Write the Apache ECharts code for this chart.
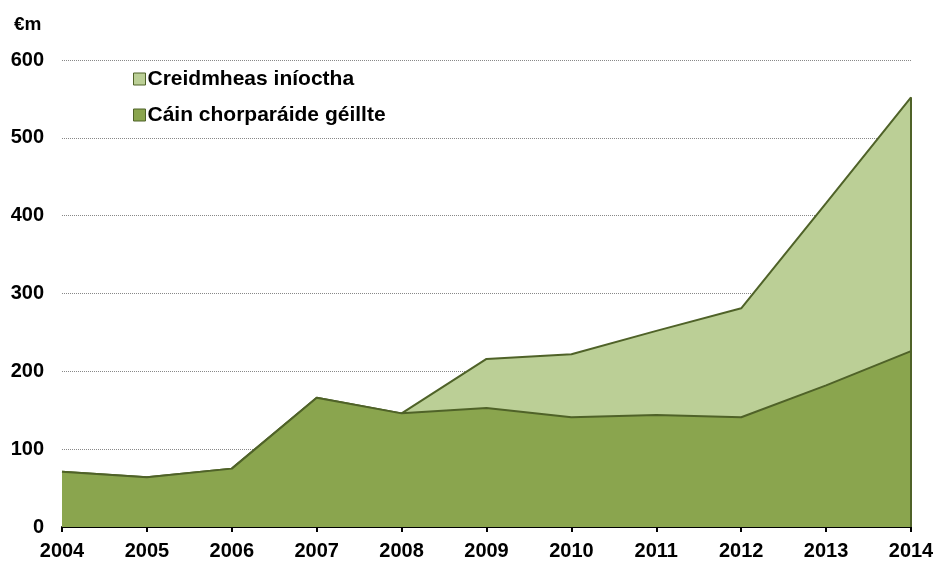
<!DOCTYPE html>
<html>
<head>
<meta charset="utf-8">
<script src="https://cdn.jsdelivr.net/npm/echarts@6/dist/echarts.min.js"></script>
<style>
  html, body { margin: 0; padding: 0; background: #fff; }
  #chart { width: 938px; height: 562px; }
</style>
</head>
<body>
<div id="chart"></div>
<script>
const years = ['2004', '2005', '2006', '2007', '2008', '2009', '2010', '2011', '2012', '2013', '2014'];
// Cáin chorparáide géillte (bottom layer)
const cainGeillte = [71, 64, 75, 166, 146, 153, 141, 144, 141, 182, 226];
// Creidmheas iníoctha (stacked on top)
const creidmheas = [0, 0, 0, 0, 0, 63, 81, 108, 140, 234, 326];

const lineCol = '#4f6228';
const darkFill = '#8aa54e';
const lightFill = '#bbcf96';
const font = 'Liberation Sans, Arial, sans-serif';

const chart = echarts.init(document.getElementById('chart'));
chart.setOption({
  animation: false,
  grid: { left: 62, right: 27, top: 60, bottom: 35 },
  graphic: [{
    type: 'text', left: 14, top: 15,
    style: { text: '€m', font: 'bold 19px ' + font, fill: '#000' }
  }],
  legend: {
    orient: 'vertical',
    left: 128,
    top: 63,
    itemGap: 14,
    itemWidth: 12,
    itemHeight: 12,
    icon: 'rect',
    textStyle: { fontFamily: font, fontWeight: 'bold', fontSize: 21, lineHeight: 22, color: '#000', padding: [0, 0, 0, -3] },
    data: [
      { name: 'Creidmheas iníoctha', itemStyle: { color: lightFill, borderColor: lineCol, borderWidth: 1 } },
      { name: 'Cáin chorparáide géillte', itemStyle: { color: darkFill, borderColor: lineCol, borderWidth: 1 } }
    ]
  },
  xAxis: {
    type: 'category',
    data: years,
    boundaryGap: false,
    axisLine: { lineStyle: { color: '#000', width: 2 } },
    axisTick: { length: 5, lineStyle: { color: '#000', width: 2 } },
    axisLabel: { fontFamily: font, fontWeight: 'bold', fontSize: 20, color: '#000', margin: 14 },
    splitLine: { show: false }
  },
  yAxis: {
    type: 'value',
    min: 0, max: 600, interval: 100,
    axisLine: { show: false },
    axisTick: { show: false },
    axisLabel: { fontFamily: font, fontWeight: 'bold', fontSize: 20, color: '#000', margin: 18 },
    splitLine: { lineStyle: { color: '#888', type: [1, 1], width: 1 } }
  },
  series: [
    {
      name: 'Cáin chorparáide géillte',
      type: 'line',
      stack: 'total',
      data: cainGeillte,
      symbol: 'none',
      lineStyle: { color: lineCol, width: 2 },
      itemStyle: { color: darkFill },
      areaStyle: { color: darkFill, opacity: 1 },
      z: 3
    },
    {
      name: 'Creidmheas iníoctha',
      type: 'line',
      stack: 'total',
      data: creidmheas,
      symbol: 'none',
      lineStyle: { color: lineCol, width: 2 },
      itemStyle: { color: lightFill },
      areaStyle: { color: lightFill, opacity: 1 },
      markLine: {
        silent: true,
        symbol: 'none',
        label: { show: false },
        lineStyle: { color: lineCol, width: 2, type: 'solid' },
        data: [[{ coord: ['2014', 0] }, { coord: ['2014', cainGeillte[10] + creidmheas[10]] }]]
      },
      z: 2
    }
  ]
});
</script>
</body>
</html>
